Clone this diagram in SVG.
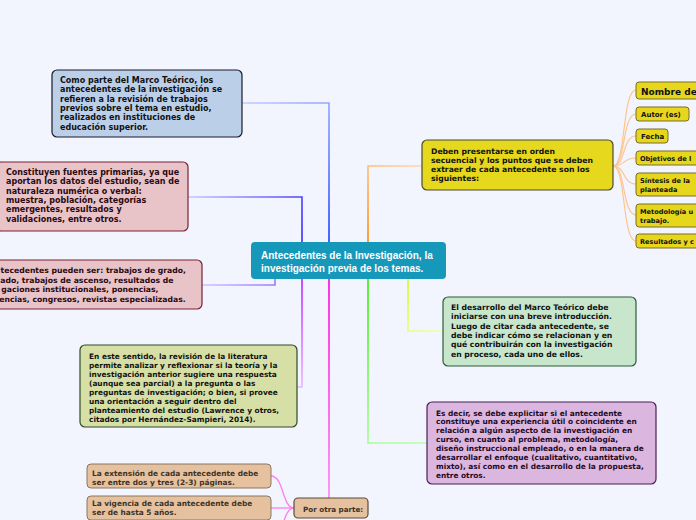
<svg xmlns="http://www.w3.org/2000/svg" width="696" height="520" viewBox="0 0 696 520">
<defs>
<style>
.t{font-family:"DejaVu Sans",Verdana,sans-serif;font-weight:bold;fill:#111}
.s8{font-size:8px}.s77{font-size:7.7px}.s74{font-size:7.4px}
.c{fill:none;stroke-width:1.6;stroke-linecap:round}
.yn{fill:#e6d71d;stroke:#7a6d2c;stroke-width:1}
</style>
<linearGradient id="gBlue" gradientUnits="userSpaceOnUse" x1="242" y1="103" x2="329" y2="242"><stop offset="0" stop-color="#c2ccff"/><stop offset="1" stop-color="#1a40ff"/></linearGradient>
<linearGradient id="gViolet" gradientUnits="userSpaceOnUse" x1="188" y1="197" x2="302" y2="242"><stop offset="0" stop-color="#c6c6ff"/><stop offset="1" stop-color="#3a2cff"/></linearGradient>
<linearGradient id="gOrange" gradientUnits="userSpaceOnUse" x1="422" y1="166" x2="368" y2="242"><stop offset="0" stop-color="#ffd8b0"/><stop offset="1" stop-color="#ff8a00"/></linearGradient>
<linearGradient id="gLilac" gradientUnits="userSpaceOnUse" x1="202" y1="285" x2="275" y2="279"><stop offset="0" stop-color="#d0c4ff"/><stop offset="1" stop-color="#9a7aff"/></linearGradient>
<linearGradient id="gPurple" gradientUnits="userSpaceOnUse" x1="297" y1="387" x2="302" y2="279"><stop offset="0" stop-color="#e8b8ff"/><stop offset="1" stop-color="#c020ff"/></linearGradient>
<linearGradient id="gMag" gradientUnits="userSpaceOnUse" x1="329" y1="498" x2="329" y2="279"><stop offset="0" stop-color="#ff80f2"/><stop offset="1" stop-color="#ff00dc"/></linearGradient>
<linearGradient id="gGreen" gradientUnits="userSpaceOnUse" x1="427" y1="443" x2="368" y2="279"><stop offset="0" stop-color="#b8ffaa"/><stop offset="1" stop-color="#33ee00"/></linearGradient>
<linearGradient id="gYG" gradientUnits="userSpaceOnUse" x1="443" y1="331" x2="408" y2="279"><stop offset="0" stop-color="#f0ffa8"/><stop offset="1" stop-color="#d2ff10"/></linearGradient>
</defs>
<rect width="696" height="520" fill="#f2f5fd"/>
<g id="connectors">
<path class="c" stroke="url(#gBlue)" d="M242,103 H329 V242"/>
<path class="c" stroke="url(#gViolet)" d="M188,197 H302 V242"/>
<path class="c" stroke="url(#gOrange)" d="M422,166 H368 V242"/>
<path class="c" stroke="url(#gLilac)" d="M202,285 H275 V279"/>
<path class="c" stroke="url(#gPurple)" d="M297,387 H302 V279"/>
<path class="c" stroke="url(#gMag)" d="M329,498 V279"/>
<path class="c" stroke="url(#gGreen)" d="M427,443 H368 V279"/>
<path class="c" stroke="url(#gYG)" d="M443,331 H408 V279"/>
<g stroke="#ffc48e" stroke-width="1.2" fill="none">
<path d="M613,166 C626,166 622,90 636,90"/>
<path d="M613,166 C626,166 622,114 636,114"/>
<path d="M613,166 C626,166 622,136 636,136"/>
<path d="M613,166 C626,166 622,158 636,158"/>
<path d="M613,166 C626,166 622,184 636,184"/>
<path d="M613,166 C626,166 622,215 636,215"/>
<path d="M613,166 C626,166 622,241 636,241"/>
</g>
<g stroke="#ff7cf0" stroke-width="1.3" fill="none">
<path d="M294,508 C282,508 284,476 271,476"/>
<path d="M294,508 H271"/>
<path d="M294,508 C282,508 284,540 271,540"/>
</g>
</g>
<g id="n-marco">
<rect x="52" y="70" width="190" height="67" rx="5" fill="#bccfe9" stroke="#1a1a28" stroke-width="1.2"/>
<text class="t s8" x="60" y="83">Como parte del Marco Teórico, los</text>
<text class="t s8" x="60" y="92.3">antecedentes de la investigación se</text>
<text class="t s8" x="60" y="101.6">refieren a la revisión de trabajos</text>
<text class="t s8" x="60" y="110.9">previos sobre el tema en estudio,</text>
<text class="t s8" x="60" y="120.2">realizados en instituciones de</text>
<text class="t s8" x="60" y="129.5">educación superior.</text>
</g>
<g id="n-fuentes">
<rect x="-4" y="162" width="192" height="69" rx="5" fill="#e8c4c9" stroke="#7b2035" stroke-width="1.2"/>
<text class="t s8" x="6" y="175" style="fill:#2a0a10">Constituyen fuentes primarias, ya que</text>
<text class="t s8" x="6" y="184.3" style="fill:#2a0a10">aportan los datos del estudio, sean de</text>
<text class="t s8" x="6" y="193.6" style="fill:#2a0a10">naturaleza numérica o verbal:</text>
<text class="t s8" x="6" y="202.9" style="fill:#2a0a10">muestra, población, categorías</text>
<text class="t s8" x="6" y="212.2" style="fill:#2a0a10">emergentes, resultados y</text>
<text class="t s8" x="6" y="221.5" style="fill:#2a0a10">validaciones, entre otros.</text>
</g>
<g id="n-tipos">
<rect x="-40" y="260" width="242" height="49" rx="5" fill="#e8c4c9" stroke="#7b2035" stroke-width="1.2"/>
<text class="t s77" x="0.5" y="273" style="fill:#2a0a10">tecedentes pueden ser: trabajos de grado,</text>
<text class="t s77" x="0.2" y="282.5" style="fill:#2a0a10">ado, trabajos de ascenso, resultados de</text>
<text class="t s77" x="1.3" y="292" style="fill:#2a0a10">gaciones institucionales, ponencias,</text>
<text class="t s77" x="-0.8" y="301.5" style="fill:#2a0a10">encias, congresos, revistas especializadas.</text>
</g>
<g id="n-centro">
<rect x="251" y="242" width="195" height="37" rx="4" fill="#1598b9"/>
<text x="261" y="259" font-family="'Liberation Sans',Arial,sans-serif" font-weight="bold" font-size="10" fill="#ffffff">Antecedentes de la Investigación, la</text>
<text x="261" y="271.5" font-family="'Liberation Sans',Arial,sans-serif" font-weight="bold" font-size="10" fill="#ffffff">investigación previa de los temas.</text>
</g>
<g id="n-puntos">
<rect x="422" y="140" width="191" height="50" rx="5" fill="#e5d81d" stroke="#4d4a35" stroke-width="1.2"/>
<text class="t s77" x="431" y="153.5">Deben presentarse en orden</text>
<text class="t s77" x="431" y="162.8">secuencial y los puntos que se deben</text>
<text class="t s77" x="431" y="172.1">extraer de cada antecedente son los</text>
<text class="t s77" x="431" y="181.4">siguientes:</text>
</g>
<g id="n-nombre"><rect class="yn" x="636" y="82" width="70" height="17" rx="3"/><text class="t" x="641" y="94.5" font-size="9">Nombre de</text></g>
<g id="n-autor"><rect class="yn" x="636" y="107" width="53" height="14" rx="3"/><text class="t" x="641" y="117" font-size="7">Autor (es)</text></g>
<g id="n-fecha"><rect class="yn" x="636" y="129" width="32" height="14" rx="3"/><text class="t" x="641" y="139" font-size="7">Fecha</text></g>
<g id="n-objetivos"><rect class="yn" x="636" y="151" width="70" height="14" rx="3"/><text class="t" x="640" y="161" font-size="6.6">Objetivos de l</text></g>
<g id="n-sintesis"><rect class="yn" x="636" y="173" width="70" height="23" rx="3"/><text class="t" x="640" y="182.5" font-size="6.6">Síntesis de la</text><text class="t" x="640" y="191.5" font-size="6.6">planteada</text></g>
<g id="n-metodologia"><rect class="yn" x="636" y="204" width="70" height="23" rx="3"/><text class="t" x="640" y="213.5" font-size="6.6">Metodología u</text><text class="t" x="640" y="222.5" font-size="6.6">trabajo.</text></g>
<g id="n-resultados"><rect class="yn" x="636" y="234" width="70" height="14" rx="3"/><text class="t" x="640" y="244" font-size="6.6">Resultados y c</text></g>
<g id="n-desarrollo">
<rect x="443" y="297" width="193" height="69" rx="5" fill="#c8e6cc" stroke="#2d5a3a" stroke-width="1.2"/>
<text class="t s77" x="451" y="310">El desarrollo del Marco Teórico debe</text>
<text class="t s77" x="451" y="319.3">iniciarse con una breve introducción.</text>
<text class="t s77" x="451" y="328.6">Luego de citar cada antecedente, se</text>
<text class="t s77" x="451" y="337.9">debe indicar cómo se relacionan y en</text>
<text class="t s77" x="451" y="347.2">qué contribuirán con la investigación</text>
<text class="t s77" x="451" y="356.5">en proceso, cada uno de ellos.</text>
</g>
<g id="n-explicitar">
<rect x="427" y="402" width="229" height="82" rx="5" fill="#dbb6de" stroke="#4b1d5a" stroke-width="1.2"/>
<text class="t s74" x="436" y="415.5" style="fill:#1e0a22">Es decir, se debe explicitar si el antecedente</text>
<text class="t s74" x="436" y="424.4" style="fill:#1e0a22">constituye una experiencia útil o coincidente en</text>
<text class="t s74" x="436" y="433.3" style="fill:#1e0a22">relación a algún aspecto de la investigación en</text>
<text class="t s74" x="436" y="442.2" style="fill:#1e0a22">curso, en cuanto al problema, metodología,</text>
<text class="t s74" x="436" y="451.1" style="fill:#1e0a22">diseño instruccional empleado, o en la manera de</text>
<text class="t s74" x="436" y="460" style="fill:#1e0a22">desarrollar el enfoque (cualitativo, cuantitativo,</text>
<text class="t s74" x="436" y="468.9" style="fill:#1e0a22">mixto), así como en el desarrollo de la propuesta,</text>
<text class="t s74" x="436" y="477.8" style="fill:#1e0a22">entre otros.</text>
</g>
<g id="n-sentido">
<rect x="80" y="345" width="217" height="82" rx="5" fill="#d6e0a6" stroke="#2f4a2a" stroke-width="1.2"/>
<text class="t s74" x="89" y="358.5">En este sentido, la revisión de la literatura</text>
<text class="t s74" x="89" y="367.5">permite analizar y reflexionar si la teoría y la</text>
<text class="t s74" x="89" y="376.5">investigación anterior sugiere una respuesta</text>
<text class="t s74" x="89" y="385.5">(aunque sea parcial) a la pregunta o las</text>
<text class="t s74" x="89" y="394.5">preguntas de investigación; o bien, si provee</text>
<text class="t s74" x="89" y="403.5">una orientación a seguir dentro del</text>
<text class="t s74" x="89" y="412.5">planteamiento del estudio (Lawrence y otros,</text>
<text class="t s74" x="89" y="421.5">citados por Hernández-Sampieri, 2014).</text>
</g>
<g id="n-extension">
<rect x="87" y="464" width="184" height="24" rx="4" fill="#e5c19f" stroke="#8a7660" stroke-width="1"/>
<text class="t s74" x="92" y="475.7" style="fill:#3d3326">La extensión de cada antecedente debe</text>
<text class="t s74" x="92" y="484.7" style="fill:#3d3326">ser entre dos y tres (2-3) páginas.</text>
</g>
<g id="n-vigencia">
<rect x="87" y="496" width="184" height="24" rx="4" fill="#e5c19f" stroke="#8a7660" stroke-width="1"/>
<text class="t s74" x="92" y="505.7" style="fill:#3d3326">La vigencia de cada antecedente debe</text>
<text class="t s74" x="92" y="514.7" style="fill:#3d3326">ser de hasta 5 años.</text>
</g>
<g id="n-otra">
<rect x="294" y="498" width="74" height="20" rx="4" fill="#e5c19f" stroke="#5a4a3a" stroke-width="1.2"/>
<text class="t" x="303" y="511.5" font-size="7.2" style="fill:#3d3326">Por otra parte:</text>
</g>
</svg>
